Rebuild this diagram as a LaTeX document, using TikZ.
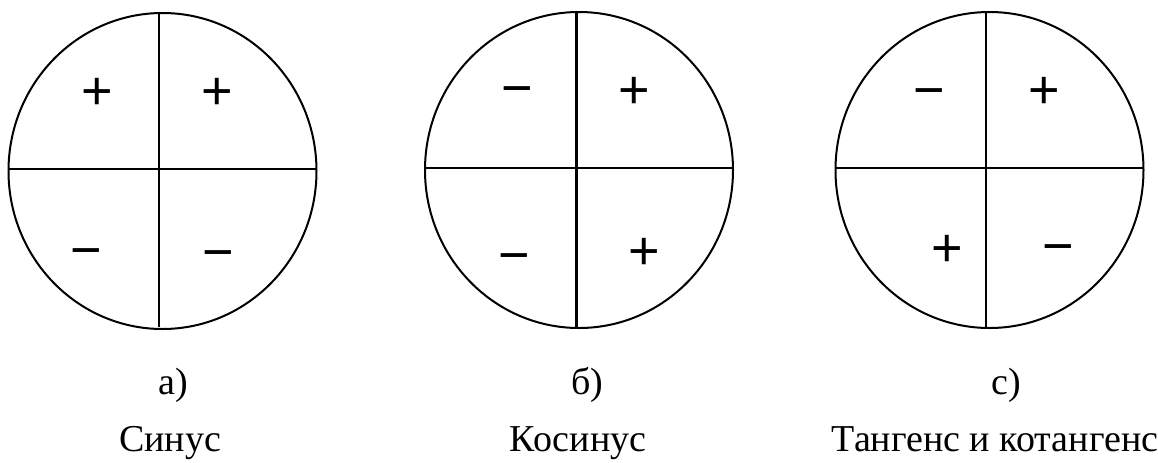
\documentclass[tikz,border=0pt]{standalone}
\usepackage{fontspec}
\setmainfont{Liberation Serif}
\newfontfamily\signfont{Liberation Sans}
\usetikzlibrary{positioning}

\begin{document}
\begin{tikzpicture}[
  x=0.5pt, y=-0.5pt,
  rim/.style={line width=1pt},
  axis/.style={line width=1pt},
  sgn/.style={inner sep=0pt,anchor=base,yshift=-8pt,font=\signfont\fontsize{27}{27}\selectfont},
  lbl/.style={inner sep=0pt,anchor=base,font=\fontsize{19}{22}\selectfont},
]
\useasboundingbox (0,0) rectangle (1158,462);
% a) sine
\draw[rim] (162.5,171) ellipse [x radius=77pt, y radius=79pt];
\draw[axis] (8,169) -- (317,169);
\draw[axis] (159,13) -- (159,327);
\node[sgn] (sinI) at (217,93) {+};
\node[sgn] (sinII) at (97,93) {+};
\node[sgn] (sinIII) at (86,252) {−};
\node[sgn] (sinIV) at (218,254) {−};
% b) cosine
\draw[rim] (579,170) ellipse [x radius=77pt, y radius=79pt];
\draw[axis] (425,168) -- (733,168);
\draw[axis,line width=1.5pt] (576,12) -- (576,327);
\node[sgn] (cosI) at (634,92) {+};
\node[sgn] (cosII) at (517,90) {−};
\node[sgn] (cosIII) at (514,257) {−};
\node[sgn] (cosIV) at (644,253) {+};
% c) tangent and cotangent
\draw[rim] (989.5,170) ellipse [x radius=77pt, y radius=79pt];
\draw[axis] (836,168) -- (1143,168);
\draw[axis] (986,12) -- (986,327);
\node[sgn] (tanI) at (1044,92) {+};
\node[sgn] (tanII) at (929,92) {−};
\node[sgn] (tanIII) at (947,250) {+};
\node[sgn] (tanIV) at (1058,248) {−};
% captions
\node[lbl] (capA) at (173,394) {а)};
\node[lbl] (capB) at (587,394) {б)};
\node[lbl] (capC) at (1006,394) {с)};
\node[lbl] (nameA) at (170,451) {Синус};
\node[lbl] (nameB) at (578,451) {Косинус};
\node[lbl] (nameC) at (995,451) {Тангенс и котангенс};
\end{tikzpicture}
\end{document}
